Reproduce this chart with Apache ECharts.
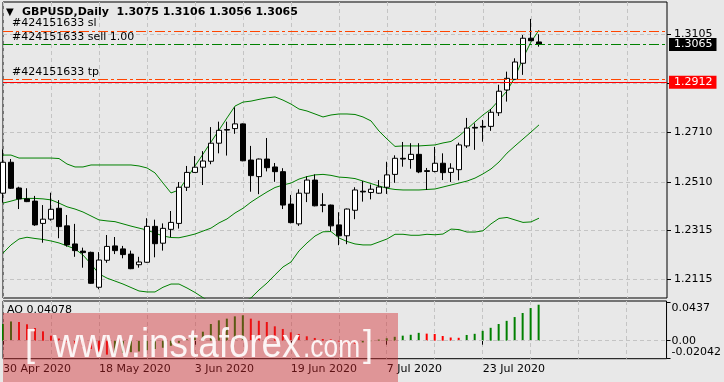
<!DOCTYPE html>
<html><head><meta charset="utf-8">
<script src="https://cdn.jsdelivr.net/npm/echarts@6/dist/echarts.min.js"></script>
<style>html,body{margin:0;padding:0;background:#e8e8e8}#c{width:724px;height:382px}</style>
</head><body><div id="c"></div>
<script>
const dates = ['30 Apr 2020','1 May 2020','4 May 2020','5 May 2020','6 May 2020','7 May 2020','8 May 2020','11 May 2020','12 May 2020','13 May 2020','14 May 2020','15 May 2020','18 May 2020','19 May 2020','20 May 2020','21 May 2020','22 May 2020','25 May 2020','26 May 2020','27 May 2020','28 May 2020','29 May 2020','1 Jun 2020','2 Jun 2020','3 Jun 2020','4 Jun 2020','5 Jun 2020','8 Jun 2020','9 Jun 2020','10 Jun 2020','11 Jun 2020','12 Jun 2020','15 Jun 2020','16 Jun 2020','17 Jun 2020','18 Jun 2020','19 Jun 2020','22 Jun 2020','23 Jun 2020','24 Jun 2020','25 Jun 2020','26 Jun 2020','29 Jun 2020','30 Jun 2020','1 Jul 2020','2 Jul 2020','3 Jul 2020','6 Jul 2020','7 Jul 2020','8 Jul 2020','9 Jul 2020','10 Jul 2020','13 Jul 2020','14 Jul 2020','15 Jul 2020','16 Jul 2020','17 Jul 2020','20 Jul 2020','21 Jul 2020','22 Jul 2020','23 Jul 2020','24 Jul 2020','27 Jul 2020','28 Jul 2020','29 Jul 2020','30 Jul 2020','31 Jul 2020','3 Aug 2020'];
const futureSlots = 16;

const opens  = [1.2464,1.2589,1.2485,1.2441,1.2432,1.2342,1.2359,1.2403,1.2332,1.2259,1.2230,1.2225,1.2084,1.2193,1.2251,1.2239,1.2218,1.2175,1.2185,1.2330,1.2262,1.2318,1.2342,1.2488,1.2548,1.2569,1.2593,1.2666,1.2721,1.2725,1.2744,1.2598,1.2531,1.2602,1.2570,1.2551,1.2420,1.2340,1.2464,1.2517,1.2417,1.2416,1.2336,1.2292,1.2395,1.2472,1.2467,1.2464,1.2488,1.2540,1.2605,1.2600,1.2621,1.2555,1.2552,1.2585,1.2548,1.2559,1.2655,1.2730,1.2734,1.2734,1.2789,1.2881,1.2924,1.2989,1.3090,1.3075];
const closes = [1.2589,1.2484,1.2441,1.2430,1.2336,1.2359,1.2399,1.2329,1.2255,1.2232,1.2224,1.2100,1.2194,1.2249,1.2232,1.2216,1.2159,1.2186,1.2330,1.2260,1.2322,1.2346,1.2488,1.2548,1.2569,1.2594,1.2666,1.2718,1.2719,1.2744,1.2595,1.2535,1.2602,1.2567,1.2551,1.2416,1.2345,1.2464,1.2517,1.2413,1.2415,1.2332,1.2292,1.2400,1.2477,1.2469,1.2480,1.2489,1.2538,1.2605,1.2602,1.2621,1.2550,1.2552,1.2585,1.2547,1.2565,1.2659,1.2727,1.2727,1.2731,1.2791,1.2876,1.2928,1.2994,1.3090,1.3080,1.3065];
const lows   = [1.2426,1.2481,1.2400,1.2428,1.2332,1.2264,1.2353,1.2282,1.2248,1.2207,1.2163,1.2098,1.2076,1.2183,1.2218,1.2201,1.2157,1.2163,1.2183,1.2205,1.2232,1.2287,1.2321,1.2473,1.2546,1.2497,1.2581,1.2625,1.2616,1.2704,1.2593,1.2470,1.2460,1.2552,1.2510,1.2400,1.2342,1.2332,1.2428,1.2411,1.2387,1.2311,1.2254,1.2258,1.2359,1.2430,1.2439,1.2462,1.2461,1.2506,1.2571,1.2563,1.2545,1.2477,1.2548,1.2517,1.2509,1.2516,1.2647,1.2639,1.2672,1.2716,1.2776,1.2834,1.2921,1.2942,1.3078,1.3056];
const highs  = [1.2641,1.2602,1.2490,1.2484,1.2453,1.2416,1.2466,1.2436,1.2376,1.2340,1.2244,1.2228,1.2226,1.2295,1.2287,1.2251,1.2232,1.2207,1.2363,1.2357,1.2342,1.2392,1.2509,1.2574,1.2614,1.2634,1.2731,1.2753,1.2753,1.2811,1.2746,1.2655,1.2604,1.2687,1.2586,1.2565,1.2457,1.2480,1.2532,1.2540,1.2464,1.2418,1.2387,1.2402,1.2488,1.2513,1.2499,1.2517,1.2591,1.2617,1.2671,1.2666,1.2666,1.2566,1.2651,1.2625,1.2585,1.2668,1.2768,1.2746,1.2760,1.2804,1.2902,1.2955,1.3009,1.3103,1.3168,1.3106];

const bbUpper  = [1.2618,1.2618,1.2606,1.2606,1.2606,1.2606,1.2606,1.2604,1.2582,1.2570,1.2570,1.2578,1.2578,1.2578,1.2578,1.2578,1.2578,1.2574,1.2566,1.2546,1.2505,1.2465,1.2477,1.2525,1.2574,1.2622,1.2671,1.2719,1.2768,1.2816,1.2832,1.2836,1.2843,1.2849,1.2853,1.2840,1.2824,1.2804,1.2796,1.2784,1.2772,1.2780,1.2784,1.2784,1.2782,1.2772,1.2756,1.2715,1.2683,1.2653,1.2655,1.2655,1.2655,1.2657,1.2659,1.2667,1.2673,1.2695,1.2723,1.2752,1.2780,1.2804,1.2840,1.2877,1.2933,1.3010,1.3075,1.3123];
const bbMiddle = [1.2424,1.2432,1.2441,1.2443,1.2443,1.2441,1.2437,1.2424,1.2409,1.2400,1.2388,1.2372,1.2356,1.2352,1.2349,1.2340,1.2331,1.2323,1.2315,1.2303,1.2291,1.2285,1.2284,1.2291,1.2299,1.2311,1.2323,1.2344,1.2360,1.2384,1.2403,1.2428,1.2449,1.2469,1.2487,1.2497,1.2505,1.2521,1.2531,1.2538,1.2540,1.2536,1.2529,1.2527,1.2523,1.2513,1.2503,1.2493,1.2484,1.2479,1.2477,1.2477,1.2477,1.2479,1.2481,1.2489,1.2497,1.2505,1.2513,1.2525,1.2542,1.2562,1.2590,1.2626,1.2655,1.2683,1.2711,1.2740];
const bbLower  = [1.2222,1.2255,1.2279,1.2286,1.2281,1.2277,1.2271,1.2263,1.2251,1.2239,1.2214,1.2178,1.2138,1.2121,1.2109,1.2097,1.2083,1.2069,1.2065,1.2065,1.2084,1.2097,1.2097,1.2081,1.2063,1.2042,1.2024,1.2012,1.2004,1.2012,1.2024,1.2041,1.2073,1.2101,1.2134,1.2166,1.2186,1.2231,1.2263,1.2291,1.2308,1.2309,1.2283,1.2269,1.2259,1.2255,1.2255,1.2267,1.2279,1.2298,1.2298,1.2294,1.2294,1.2298,1.2296,1.2299,1.2319,1.2317,1.2307,1.2307,1.2312,1.2340,1.2362,1.2366,1.2356,1.2346,1.2348,1.2363];

const ao = [0.0190,0.0218,0.0212,0.0186,0.0144,0.0106,0.0057,0.0025,-0.0010,-0.0040,-0.0068,-0.0095,-0.0125,-0.0158,-0.0146,-0.0138,-0.0130,-0.0122,-0.0108,-0.0094,-0.0080,-0.0058,-0.0025,0.0015,0.0058,0.0102,0.0189,0.0231,0.0250,0.0276,0.0288,0.0250,0.0226,0.0212,0.0163,0.0133,0.0095,0.0076,0.0050,0.0031,0.0019,0.0015,-0.0010,-0.0030,-0.0034,-0.0020,-0.0005,0.0013,0.0028,0.0044,0.0057,0.0067,0.0089,0.0080,0.0076,0.0053,0.0036,0.0033,0.0065,0.0078,0.0112,0.0146,0.0189,0.0225,0.0268,0.0314,0.0370,0.04078];

const priceTicks = [1.2115, 1.2315, 1.2510, 1.2710, 1.2910, 1.3105];
const aoTicks = [-0.02042, 0, 0.0437];
const orderId = '#424151633';
const slLevel = 1.3120, sellLevel = 1.3065, tpLevel = 1.2924, hLineLevel = 1.2912;
const bidPrice = 1.3065;
const header = 'GBPUSD,Daily  1.3075 1.3106 1.3056 1.3065';
const aoHeader = 'AO 0.04078';

const cats = dates.concat(new Array(futureSlots).fill(''));
const FONT = 'DejaVu Sans';
const gridDash = {color: '#c4c4c4', type: [4, 3], width: 1};
const dashDot = [10, 3, 3, 3];

const chart = echarts.init(document.getElementById('c'), null, {renderer: 'canvas'});
const xBase = {
  type: 'category', data: cats, boundaryGap: false,
  axisLine: {show: false},
  splitLine: {show: true, interval: 5, lineStyle: gridDash}
};
const startLabel = (txt) => ({show: true, position: 'insideStartTop', formatter: txt, color: '#000',
  fontFamily: FONT, fontSize: 11, distance: [9, 2]});
const boxLabel = (bg) => ({show: true, position: 'end', distance: 2, formatter: p => p.value.toFixed(4), color: '#fff', backgroundColor: bg,
  padding: [1, 4, 0, 5], lineHeight: 12, fontFamily: FONT, fontSize: 11});

chart.setOption({
  animation: false,
  backgroundColor: '#e8e8e8',
  title: [
    {text: '{t|▼}{n|' + header + '}', left: 6, top: 7, padding: 0,
     textStyle: {rich: {t: {fontSize: 10, width: 16, color: '#000', fontFamily: FONT}, n: {fontSize: 11, color: '#000', fontFamily: FONT}}}},
    {text: aoHeader, left: 7, top: 305, padding: 0, textStyle: {fontSize: 11, fontWeight: 'normal', color: '#000', fontFamily: FONT}}
  ],
  grid: [
    {left: 3, right: 57, top: 2, height: 296, show: true, borderColor: '#000', borderWidth: 1, backgroundColor: 'transparent'},
    {left: 3, right: 57, top: 301, height: 57.7, show: true, borderColor: '#000', borderWidth: 1, backgroundColor: 'transparent'}
  ],
  xAxis: [
    Object.assign({}, xBase, {gridIndex: 0, axisTick: {show: false}, axisLabel: {show: false}}),
    Object.assign({}, xBase, {gridIndex: 1,
      axisTick: {show: true, length: 4, lineStyle: {color: '#000'}, interval: (i, v) => i % 12 === 0 && v !== ''},
      axisLabel: {show: true, align: 'left', margin: 5, color: '#000', fontFamily: FONT, fontSize: 11,
        interval: (i, v) => i % 12 === 0 && v !== ''}})
  ],
  yAxis: [
    {type: 'value', gridIndex: 0, position: 'right', min: 1.20406, max: 1.32364,
     axisLine: {show: false},
     axisTick: {show: true, length: 4, customValues: priceTicks, lineStyle: {color: '#000'}},
     axisLabel: {customValues: priceTicks, formatter: v => v.toFixed(4), margin: 7, color: '#000', fontFamily: FONT, fontSize: 11},
     splitLine: {show: true, lineStyle: gridDash}},
    {type: 'value', gridIndex: 1, position: 'right', min: -0.02042, max: 0.045,
     axisLine: {show: false},
     axisTick: {show: true, length: 4, customValues: aoTicks, lineStyle: {color: '#000'}},
     axisLabel: {customValues: aoTicks, margin: 5, color: '#000', fontFamily: FONT, fontSize: 11,
       formatter: v => v === 0 ? '{m|0.00}' : (v > 0 ? '{t|' + v + '}' : '{b|' + v + '}'),
       rich: {t: {padding: [12, 0, 0, 0], fontFamily: FONT, fontSize: 11, color: '#000'},
              m: {fontFamily: FONT, fontSize: 11, color: '#000'},
              b: {padding: [0, 0, 14, 0], fontFamily: FONT, fontSize: 11, color: '#000'}}},
     splitLine: {show: false}}
  ],
  series: [
    {type: 'line', name: 'BB upper', xAxisIndex: 0, yAxisIndex: 0, data: bbUpper, symbol: 'none', lineStyle: {color: '#008000', width: 1}, z: 3},
    {type: 'line', name: 'BB middle', xAxisIndex: 0, yAxisIndex: 0, data: bbMiddle, symbol: 'none', lineStyle: {color: '#008000', width: 1}, z: 3,
     markLine: {silent: true, symbol: ['none', 'none'], animation: false, precision: 4,
       data: [
         {yAxis: slLevel, lineStyle: {color: '#ff4500', type: dashDot, width: 1}, label: startLabel(orderId + ' sl')},
         {yAxis: sellLevel, lineStyle: {color: '#008000', type: dashDot, width: 1}, label: startLabel(orderId + ' sell 1.00')},
         {yAxis: tpLevel, lineStyle: {color: '#ff4500', type: dashDot, width: 1}, label: startLabel(orderId + ' tp')},
         {yAxis: hLineLevel, lineStyle: {color: '#ff0000', type: 'solid', width: 1}, label: boxLabel('#ff0000')},
         {yAxis: bidPrice, lineStyle: {color: 'rgba(0,0,0,0)', width: 0}, label: boxLabel('#000000')}
       ]}},
    {type: 'line', name: 'BB lower', xAxisIndex: 0, yAxisIndex: 0, data: bbLower, symbol: 'none', lineStyle: {color: '#008000', width: 1}, z: 3},
    {type: 'candlestick', name: 'GBPUSD', xAxisIndex: 0, yAxisIndex: 0, barWidth: 5, z: 4,
     data: opens.map((o, i) => [o, closes[i], lows[i], highs[i]]),
     itemStyle: {color: '#ffffff', color0: '#000000', borderColor: '#000000', borderColor0: '#000000', borderWidth: 1}},
    {type: 'bar', name: 'AO', xAxisIndex: 1, yAxisIndex: 1, data: ao, barWidth: 2,
     itemStyle: {color: p => (p.dataIndex === 0 || ao[p.dataIndex] >= ao[p.dataIndex - 1]) ? '#008000' : '#ff0000'},
     markLine: {silent: true, symbol: ['none', 'none'], label: {show: false}, data: [{yAxis: 0}], lineStyle: {color: '#c4c4c4', type: [4, 3], width: 1}}}
  ],
  graphic: [
    {type: 'rect', z: 100, shape: {x: 3, y: 313, width: 395, height: 69}, style: {fill: 'rgba(212,40,45,0.43)'}},
    {type: 'text', z: 101, x: 25, y: 346, style: {text: '[', fill: 'rgba(255,255,255,0.9)', font: '36px "Liberation Sans"', verticalAlign: 'middle'}},
    {type: 'text', z: 101, x: 53, y: 345.5, scaleX: 0.92, style: {text: 'www.instaforex', fill: 'rgba(255,255,255,0.9)', font: '40px "Liberation Sans"', verticalAlign: 'middle'}},
    {type: 'text', z: 101, x: 303, y: 348.3, scaleX: 0.85, style: {text: '.com', fill: 'rgba(255,255,255,0.9)', font: '31px "Liberation Sans"', verticalAlign: 'middle'}},
    {type: 'text', z: 101, x: 363, y: 346, style: {text: ']', fill: 'rgba(255,255,255,0.9)', font: '36px "Liberation Sans"', verticalAlign: 'middle'}}
  ]
});
</script></body></html>
